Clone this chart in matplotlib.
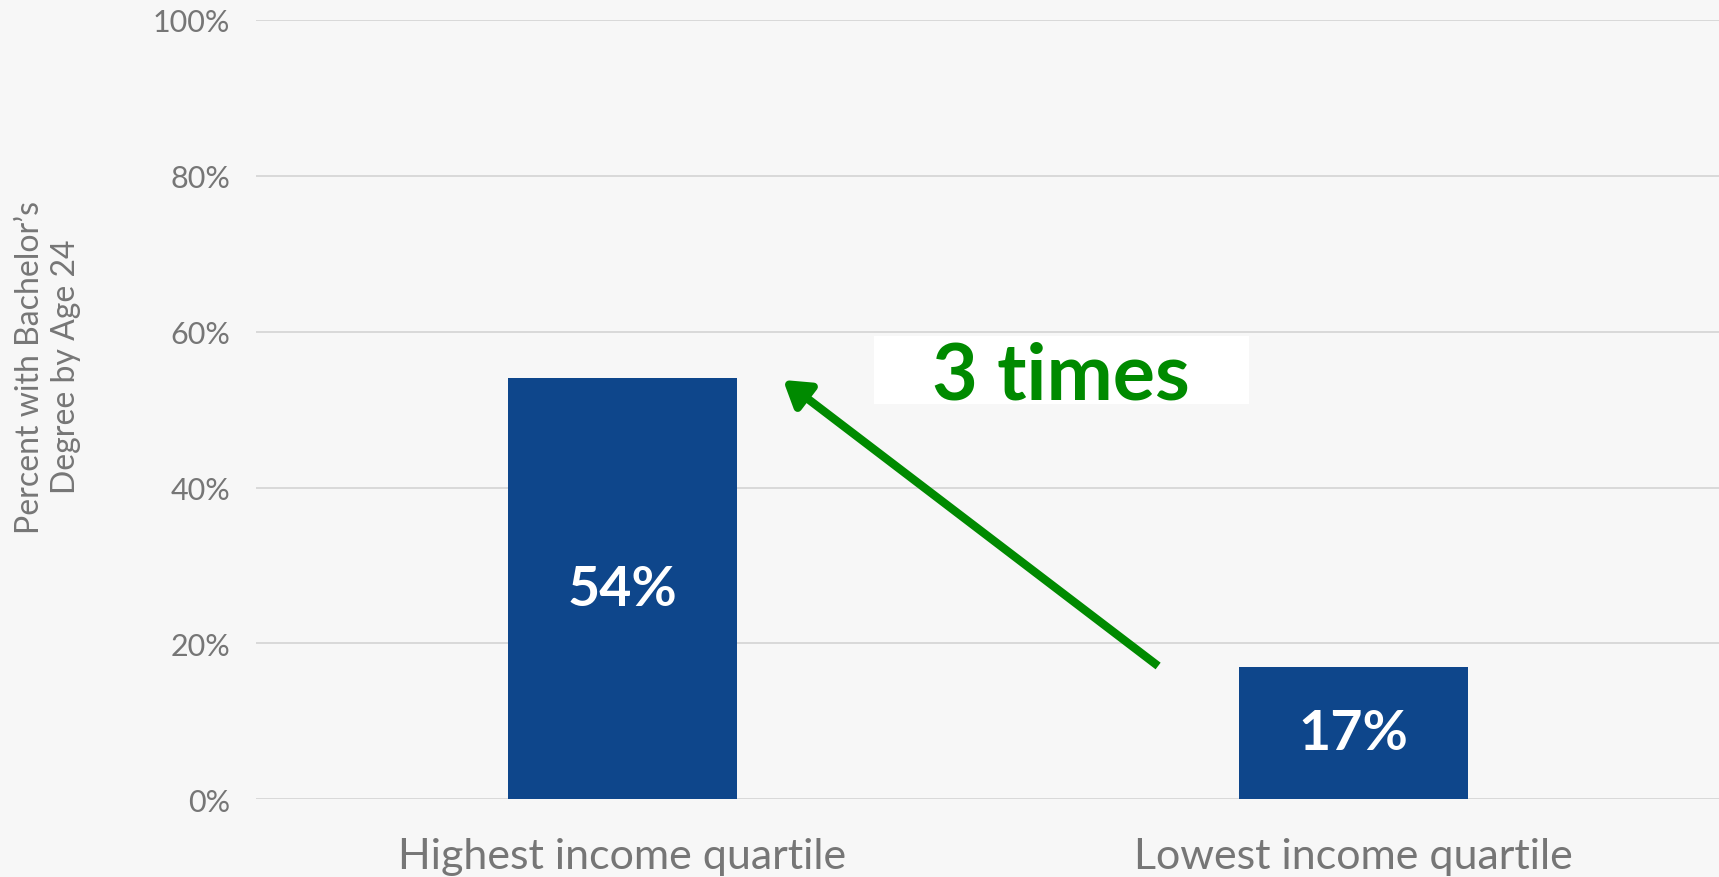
import matplotlib.pyplot as plt
from matplotlib.patches import Rectangle

categories = ['Highest income quartile', 'Lowest income quartile']
values = [0.54, 0.17]
value_labels = ['54%', '17%']
y_ticks = [0, 0.2, 0.4, 0.6, 0.8, 1.0]
y_tick_labels = ['0%', '20%', '40%', '60%', '80%', '100%']

bg = '#f7f7f7'
bar_color = '#0e468b'
green = '#008a00'
gray = '#767676'

plt.rcParams['font.family'] = ['Lato', 'DejaVu Sans']

fig = plt.figure(figsize=(17.19, 8.78), dpi=100, facecolor=bg)
ax = fig.add_axes([0.1492, 0.0885, 0.8508, 0.8878], facecolor=bg)

x = list(range(len(categories)))
bars = ax.bar(x, values, width=0.313, color=bar_color, zorder=3)

for b, v, lab in zip(bars, values, value_labels):
    ax.text(b.get_x() + b.get_width() / 2, v / 2, lab, ha='center', va='center',
            color='white', fontsize=40, fontweight='bold', zorder=4)

ax.set_xlim(-0.5, 1.5)
ax.set_ylim(0, 1)
ax.set_yticks(y_ticks)
ax.set_yticklabels(y_tick_labels)
ax.set_xticks(x)
ax.set_xticklabels(categories)
ax.grid(axis='y', color='#d9d9d9', linewidth=1.4, zorder=0)
ax.tick_params(axis='y', length=0, pad=19, labelsize=22, labelcolor=gray)
ax.tick_params(axis='x', length=0, pad=27, labelsize=31, labelcolor=gray)
for s in ax.spines.values():
    s.set_visible(False)

fig.text(48 / 1719, 1 - 367 / 878, "Percent with Bachelor\u2019s\nDegree by Age 24",
         rotation=90, ha='center', va='center', multialignment='center',
         fontsize=23, color=gray, linespacing=1.22)

# white callout box with the ratio
ax.add_patch(Rectangle((0.344, 0.507), 0.513, 0.087, facecolor='white',
                       edgecolor='none', zorder=5))
ax.text(0.600, 0.543, '3 times', ha='center', va='center', color=green,
        fontsize=57, fontweight='bold', zorder=6)

# arrow from the low bar up to the high bar
ax.annotate('', xy=(0.220, 0.538), xytext=(0.733, 0.171),
            arrowprops=dict(arrowstyle='-|>,head_length=1.5,head_width=0.95',
                            color=green, lw=6, joinstyle='round',
                            capstyle='butt', shrinkA=0, shrinkB=0),
            zorder=6)

fig.savefig('out.png', dpi=100, facecolor=bg)
